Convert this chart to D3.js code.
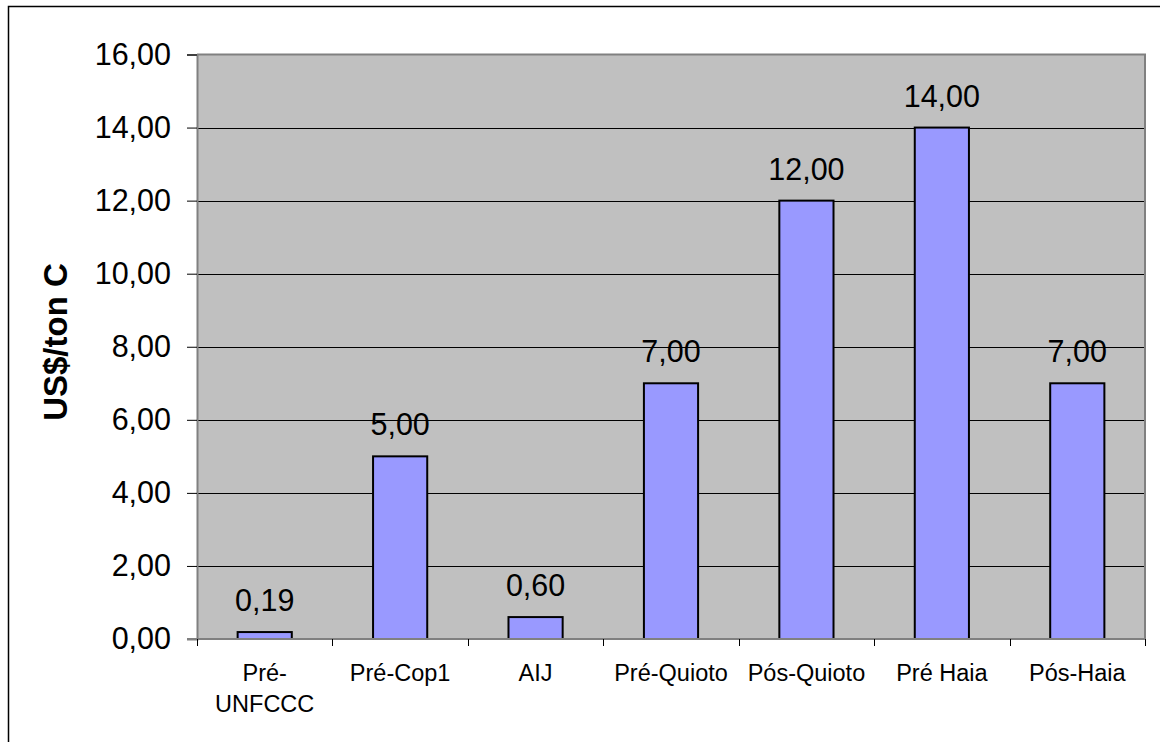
<!DOCTYPE html>
<html>
<head>
<meta charset="utf-8">
<script src="https://cdn.jsdelivr.net/npm/d3@7"></script>
<style>
  html, body { margin: 0; padding: 0; background: #ffffff; }
  svg { display: block; font-family: "Liberation Sans", Arial, sans-serif; }
</style>
</head>
<body>
<svg id="chart" width="1160" height="742"></svg>
<script>
// Carbon price per period (US$ per ton of carbon)
const categories = ["Pré-UNFCCC", "Pré-Cop1", "AIJ", "Pré-Quioto", "Pós-Quioto", "Pré Haia", "Pós-Haia"];
const prices = [0.19, 5.00, 0.60, 7.00, 12.00, 14.00, 7.00];
const yTicks = [0, 2, 4, 6, 8, 10, 12, 14, 16];
const yTitle = "US$/ton C";

const svg = d3.select("#chart");
const plot = { left: 197, top: 54.5, right: 1145, bottom: 639 };

// Brazilian-style number formatting: comma as decimal separator
const locale = d3.formatLocale({ decimal: ",", thousands: ".", grouping: [3], currency: ["R$", ""] });
const fmt = locale.format(".2f");

// Outer chart frame (only the top and left edges fall inside the canvas)
svg.append("rect")
  .attr("x", 8.5).attr("y", 6.5)
  .attr("width", 1200).attr("height", 800)
  .attr("fill", "#ffffff").attr("stroke", "#000000").attr("stroke-width", 1.5);

const x = d3.scaleBand()
  .domain(categories)
  .range([plot.left, plot.right])
  .paddingInner(0.6).paddingOuter(0.3);

const xBand = d3.scaleBand()
  .domain(categories)
  .range([plot.left, plot.right])
  .padding(0);

const y = d3.scaleLinear()
  .domain([0, 16])
  .range([plot.bottom, plot.top]);

// Plot area background
svg.append("rect")
  .attr("x", plot.left).attr("y", plot.top)
  .attr("width", plot.right - plot.left).attr("height", plot.bottom - plot.top)
  .attr("fill", "#c0c0c0");

// Horizontal gridlines
svg.append("g")
  .selectAll("line")
  .data(yTicks.filter(d => d > 0 && d < 16))
  .join("line")
  .attr("x1", plot.left).attr("x2", plot.right)
  .attr("y1", d => Math.round(y(d)) + 0.5).attr("y2", d => Math.round(y(d)) + 0.5)
  .attr("stroke", "#000000").attr("stroke-width", 1);

// Plot area border (top and right in grey)
svg.append("path")
  .attr("d", `M${plot.left},${plot.top} H${plot.right} V${plot.bottom}`)
  .attr("fill", "none").attr("stroke", "#808080").attr("stroke-width", 2);

// Bars
svg.append("g")
  .selectAll("rect")
  .data(categories)
  .join("rect")
  .attr("x", d => x(d))
  .attr("y", (d, i) => y(prices[i]))
  .attr("width", x.bandwidth())
  .attr("height", (d, i) => y(0) - y(prices[i]))
  .attr("fill", "#9999ff")
  .attr("stroke", "#000000").attr("stroke-width", 2);

// Value labels above bars
svg.append("g")
  .selectAll("text")
  .data(categories)
  .join("text")
  .attr("x", d => x(d) + x.bandwidth() / 2)
  .attr("y", (d, i) => y(prices[i]) - 21)
  .attr("text-anchor", "middle")
  .attr("font-size", 30.5)
  .attr("fill", "#000000")
  .text((d, i) => fmt(prices[i]));

// Y axis
const yAxis = svg.append("g")
  .attr("transform", `translate(${plot.left},0)`)
  .call(d3.axisLeft(y).tickValues(yTicks).tickFormat(fmt).tickSize(10).tickPadding(16));
yAxis.select(".domain").attr("stroke", "#808080").attr("stroke-width", 2);
yAxis.selectAll(".tick line").attr("stroke", "#000000");
yAxis.selectAll(".tick text")
  .attr("font-size", 30.5)
  .attr("font-family", "Liberation Sans, Arial, sans-serif")
  .attr("fill", "#000000");

// X axis line with ticks at category boundaries
const xAxis = svg.append("g");
xAxis.append("line")
  .attr("x1", plot.left - 10).attr("x2", plot.right)
  .attr("y1", plot.bottom).attr("y2", plot.bottom)
  .attr("stroke", "#808080").attr("stroke-width", 2);
const boundaries = categories.map(c => xBand(c)).concat([plot.right]);
xAxis.selectAll("line.tick")
  .data(boundaries)
  .join("line")
  .attr("class", "tick")
  .attr("x1", d => Math.round(d) + 0.5).attr("x2", d => Math.round(d) + 0.5)
  .attr("y1", plot.bottom).attr("y2", plot.bottom + 7)
  .attr("stroke", "#000000").attr("stroke-width", 1);

// Category labels, wrapped after the hyphen when wider than the band
const catLabels = xAxis.selectAll("text.cat")
  .data(categories)
  .join("text")
  .attr("class", "cat")
  .attr("x", d => xBand(d) + xBand.bandwidth() / 2)
  .attr("y", 681)
  .attr("text-anchor", "middle")
  .attr("font-size", 23.5)
  .attr("fill", "#000000")
  .text(d => d);

catLabels.each(function (d) {
  const t = d3.select(this);
  if (this.getComputedTextLength() > xBand.bandwidth() && d.includes("-")) {
    const cut = d.indexOf("-") + 1;
    const cx = +t.attr("x");
    t.text(null);
    t.append("tspan").attr("x", cx).text(d.slice(0, cut));
    t.append("tspan").attr("x", cx).attr("dy", 31).text(d.slice(cut));
  }
});

// Y axis title
svg.append("text")
  .attr("transform", "translate(67,342) rotate(-90)")
  .attr("text-anchor", "middle")
  .attr("font-size", 33)
  .attr("font-weight", "bold")
  .attr("fill", "#000000")
  .text(yTitle);
</script>
</body>
</html>
